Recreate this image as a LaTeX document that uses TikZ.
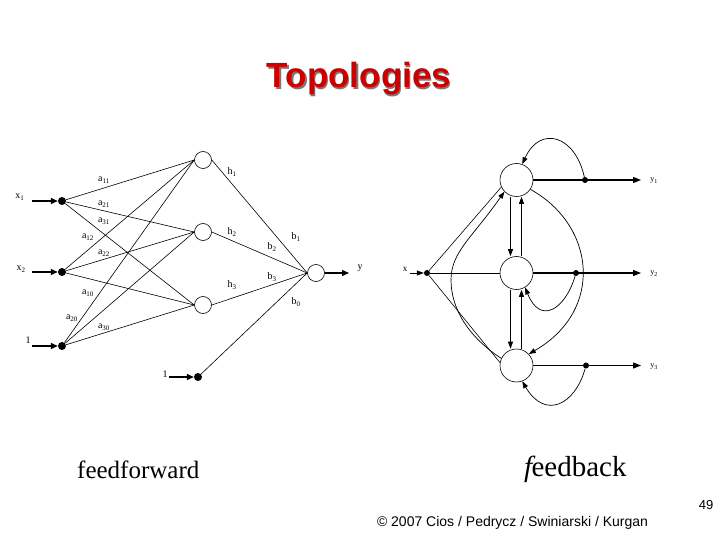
\documentclass[tikz,border=0pt]{standalone}
\usepackage{fontspec}
\setmainfont{Liberation Serif}
\newfontfamily\arialfont{Liberation Sans}
\usetikzlibrary{arrows.meta}
\definecolor{titlered}{RGB}{204,0,0}
\definecolor{shadowgray}{RGB}{120,120,120}
\begin{document}
\begin{tikzpicture}[x=1pt,y=-1pt,
  neuron/.style={circle,draw,minimum size=17pt,inner sep=0pt,line width=0.6pt},
  bigneuron/.style={circle,draw,minimum size=33pt,inner sep=0pt,line width=0.6pt},
  dotin/.style={circle,fill,minimum size=8pt,inner sep=0pt},
  dotsm/.style={circle,fill,minimum size=6pt,inner sep=0pt},
  wire/.style={line width=0.6pt},
  inarrow/.style={line width=1.3pt,-{Triangle[length=7pt,width=6pt]}},
  fbarrow/.style={line width=0.7pt,-{Triangle[length=7pt,width=5pt]}},
  outarrow/.style={line width=1.1pt,-{Triangle[length=8pt,width=6pt]}},
  lab/.style={font=\fontsize{10}{12}\selectfont,inner sep=0pt},
  slab/.style={font=\fontsize{8}{10}\selectfont,inner sep=0pt},
]
\useasboundingbox (0,0) rectangle (720,540);

% ---------- title ----------
\node[font=\arialfont\bfseries\fontsize{35}{40}\selectfont, text=shadowgray, anchor=base] (tsh) at (360.3,89.3) {Topologies};
\node[font=\arialfont\bfseries\fontsize{35}{40}\selectfont, text=titlered, anchor=base] (title) at (359,88) {Topologies};

% ---------- feedforward ----------
\node[dotin] (i1) at (62,201) {};
\node[dotin] (i2) at (62,272) {};
\node[dotin] (i0) at (62,346) {};
\node[neuron] (h1) at (203,160) {};
\node[neuron] (h2) at (203,232) {};
\node[neuron] (h3) at (203,305) {};
\node[neuron] (o) at (316,273) {};
\node[dotin] (bb) at (198,377) {};
\coordinate (s1) at (32,201);
\coordinate (s2) at (32,272);
\coordinate (s0) at (32,346);
\coordinate (sb) at (169,377);
\coordinate (yo) at (349,273);

\foreach \i in {i1,i2,i0}{
  \foreach \h in {h1,h2,h3}{
    \draw[wire] (\i) -- (\h.west);
  }
}
\foreach \h in {h1,h2,h3}{
  \draw[wire] (\h.east) -- (o.west);
}
\draw[wire] (bb) -- (o.west);
\draw[inarrow] (s1) -- (i1);
\draw[inarrow] (s2) -- (i2);
\draw[inarrow] (s0) -- (i0);
\draw[inarrow] (sb) -- (bb);
\draw[inarrow] (o.east) -- (yo);

\node[lab] (lx1) at (20,197) {x\textsubscript{1}};
\node[lab] (lx2) at (21,269) {x\textsubscript{2}};
\node[lab] (l1) at (28,340) {1};
\node[lab] (lb1) at (165,374) {1};
\node[lab] (ly) at (360,268) {y};

\node[lab] (a11) at (104,180) {a\textsubscript{11}};
\node[lab] (a21) at (104,204) {a\textsubscript{21}};
\node[lab] (a31) at (104,221) {a\textsubscript{31}};
\node[lab] (a12) at (88,237) {a\textsubscript{12}};
\node[lab] (a22) at (104,253) {a\textsubscript{22}};
\node[lab] (a10) at (88,293) {a\textsubscript{10}};
\node[lab] (a20) at (72,318) {a\textsubscript{20}};
\node[lab] (a30) at (104,327) {a\textsubscript{30}};

\node[lab] (lh1) at (232,172) {h\textsubscript{1}};
\node[lab] (lh2) at (232,232) {h\textsubscript{2}};
\node[lab] (lh3) at (232,285) {h\textsubscript{3}};
\node[lab] (lb1x) at (296,237) {b\textsubscript{1}};
\node[lab] (lb2) at (272,247) {b\textsubscript{2}};
\node[lab] (lb3) at (272,277) {b\textsubscript{3}};
\node[lab] (lb0) at (296,302) {b\textsubscript{0}};

% ---------- feedback ----------
\node[bigneuron] (n1) at (516.5,180) {};
\node[bigneuron] (n2) at (516.5,273) {};
\node[bigneuron] (n3) at (516.5,365.5) {};
\node[dotsm] (x) at (427,273) {};
\node[dotsm] (d1) at (585,180) {};
\node[dotsm] (d2) at (576,273) {};
\node[dotsm] (d3) at (586,365.5) {};
\coordinate (t1) at (641,180);
\coordinate (t2) at (641,273);
\coordinate (t3) at (641,365.5);
\coordinate (xs) at (410,273);

\draw[outarrow] (n1) -- (t1);
\draw[outarrow] (n2) -- (t2);
\draw[outarrow] (n3) -- (t3);
\draw[fbarrow] (xs) -- (x);

\draw[wire] (x) -- (n1.205);
\draw[wire] (x) -- (n2);
\draw[wire] (x) -- (n3.170);

% vertical links
\draw[fbarrow] ([xshift=-6pt]n1.south) -- ([xshift=-6pt]n2.north);
\draw[fbarrow] ([xshift=5pt]n2.north) -- ([xshift=5pt]n1.south);
\draw[fbarrow] ([xshift=-6pt]n2.south) -- ([xshift=-6pt]n3.north);
\draw[fbarrow] ([xshift=5pt]n3.north) -- ([xshift=5pt]n2.south);

% self loops
\draw[fbarrow] (d1) .. controls (575,135) and (540,125) .. (n1.70);
\draw[fbarrow] (d2) .. controls (565,310) and (540,325) .. (n2.-59);
\draw[fbarrow] (d3) .. controls (575,405) and (545,420) .. (n3.-70);

% big curves
\draw[fbarrow] (n1.-34) .. controls (595,225) and (605,310) .. (n3.43);
\draw[fbarrow] (n3.155) .. controls (470,338) and (451,310) .. (451,280) .. controls (451,252) and (472,238) .. (n1.224);

\node[font=\fontsize{9}{11}\selectfont,inner sep=0pt] (lx) at (405,269) {x};
\node[slab] (ly1) at (654,181) {y\textsubscript{1}};
\node[slab] (ly2) at (654,274) {y\textsubscript{2}};
\node[slab] (ly3) at (654,367) {y\textsubscript{3}};

% ---------- captions ----------
\node[anchor=base west, font=\fontsize{25}{30}\selectfont, inner sep=0pt] (ff) at (77,478) {feedforward};
\node[anchor=base west, font=\fontsize{29}{34}\selectfont, inner sep=0pt] (fb) at (524,476) {\textit{f}\kern-4pt eedback};
\node[anchor=base, font=\arialfont\fontsize{14}{16}\selectfont, inner sep=0pt] (cr) at (512.5,526) {© 2007 Cios / Pedrycz / Swiniarski / Kurgan};
\node[anchor=base, font=\arialfont\fontsize{13}{15}\selectfont, inner sep=0pt] (pg) at (706,509) {49};
\end{tikzpicture}
\end{document}
